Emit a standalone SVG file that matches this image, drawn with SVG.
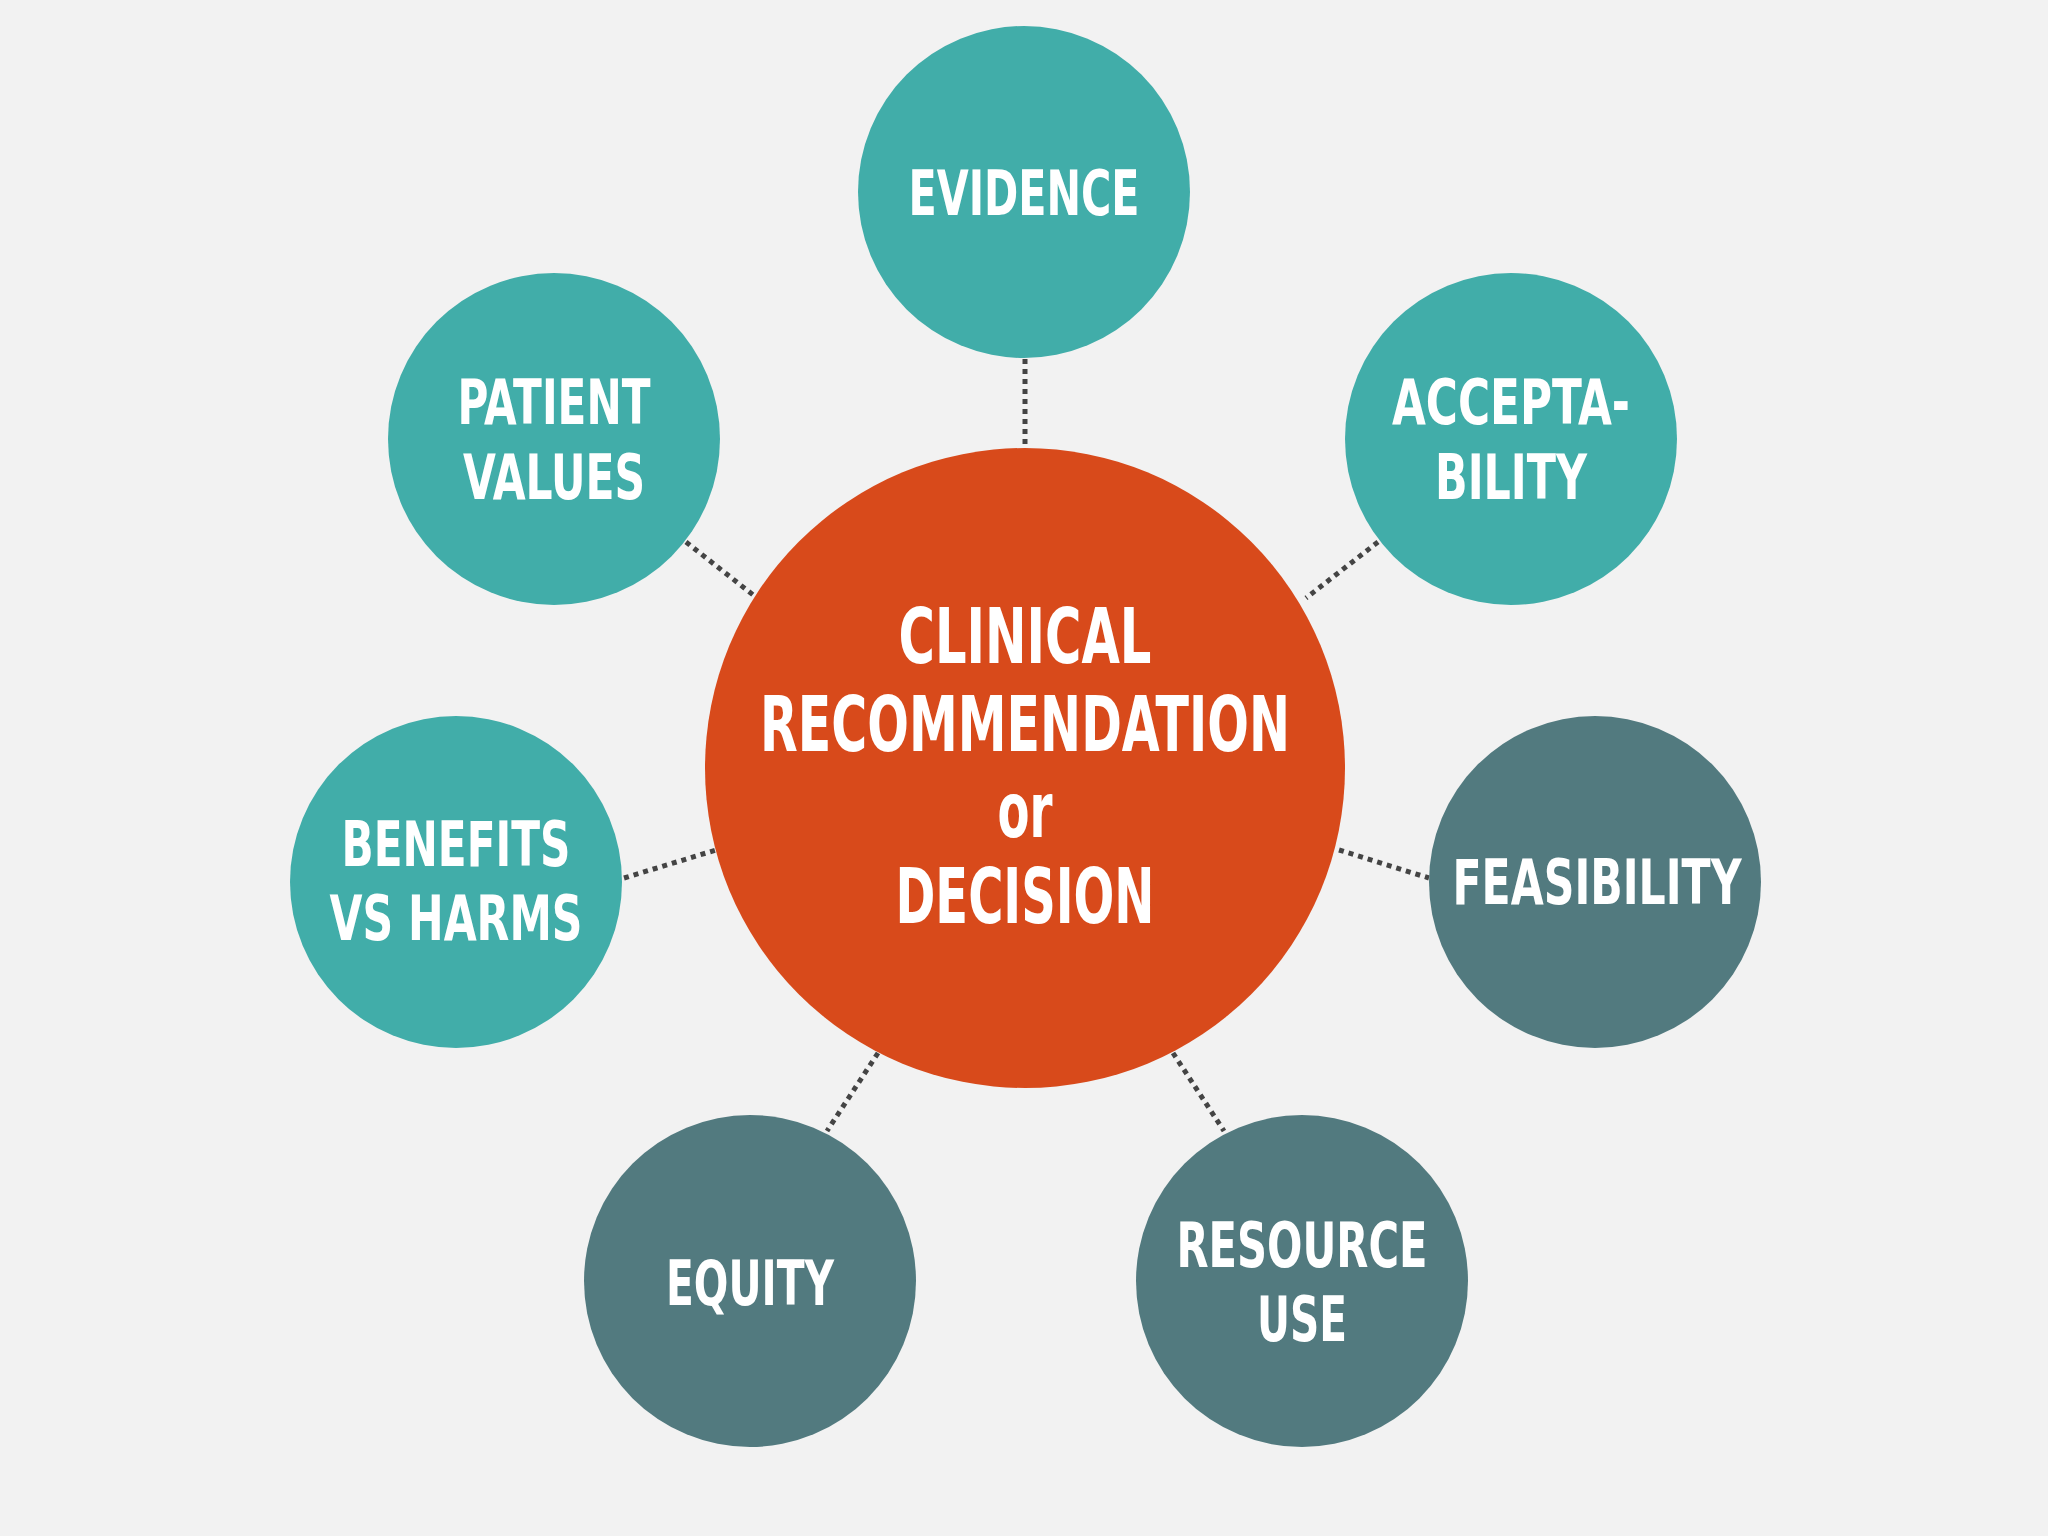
<svg xmlns="http://www.w3.org/2000/svg" width="2048" height="1536" viewBox="0 0 2048 1536">
<style>
.teal{fill:#41ADA9}.slate{fill:#527A7F}.core{fill:#D84A1B}
.c{stroke:#444;stroke-width:5;stroke-dasharray:5 5;fill:none}
text{font-family:"Liberation Sans Narrow","DejaVu Sans Condensed","Liberation Sans",sans-serif;font-weight:bold;fill:#fff;text-anchor:middle;font-size:62px}
.big{font-size:76px}
</style>
<rect width="2048" height="1536" fill="#F2F2F2"/>
<g id="connectors">
<line class="c" x1="1025" y1="359" x2="1025" y2="448"/>
<line class="c" x1="686" y1="542" x2="757" y2="598"/>
<line class="c" x1="1378" y1="542" x2="1306" y2="598"/>
<line class="c" x1="624" y1="878" x2="716" y2="850"/>
<line class="c" x1="1339" y1="850" x2="1429" y2="878"/>
<line class="c" x1="878" y1="1053" x2="827" y2="1131"/>
<line class="c" x1="1173" y1="1053" x2="1224" y2="1131"/>
</g>
<g id="center"><circle class="core" cx="1025" cy="768" r="320"/>
<text class="big" x="1025" y="663" textLength="253" lengthAdjust="spacingAndGlyphs">CLINICAL</text>
<text class="big" x="1025" y="751" textLength="530" lengthAdjust="spacingAndGlyphs">RECOMMENDATION</text>
<text class="big" x="1025" y="837" textLength="55" lengthAdjust="spacingAndGlyphs">or</text>
<text class="big" x="1025" y="923" textLength="259" lengthAdjust="spacingAndGlyphs">DECISION</text></g>
<g id="evidence"><circle class="teal" cx="1024" cy="192" r="166"/>
<text x="1024" y="215" textLength="231" lengthAdjust="spacingAndGlyphs">EVIDENCE</text></g>
<g id="patient"><circle class="teal" cx="554" cy="439" r="166"/>
<text x="554" y="424" textLength="193" lengthAdjust="spacingAndGlyphs">PATIENT</text>
<text x="554" y="499" textLength="182" lengthAdjust="spacingAndGlyphs">VALUES</text></g>
<g id="accept"><circle class="teal" cx="1511" cy="439" r="166"/>
<text x="1511" y="424" textLength="238" lengthAdjust="spacingAndGlyphs">ACCEPTA-</text>
<text x="1511" y="499" textLength="152" lengthAdjust="spacingAndGlyphs">BILITY</text></g>
<g id="benefits"><circle class="teal" cx="456" cy="882" r="166"/>
<text x="456" y="866" textLength="229" lengthAdjust="spacingAndGlyphs">BENEFITS</text>
<text x="456" y="940" textLength="253" lengthAdjust="spacingAndGlyphs">VS HARMS</text></g>
<g id="feasibility"><circle class="slate" cx="1595" cy="882" r="166"/>
<text x="1597" y="904" textLength="289" lengthAdjust="spacingAndGlyphs">FEASIBILITY</text></g>
<g id="equity"><circle class="slate" cx="750" cy="1281" r="166"/>
<text x="750" y="1305" textLength="168" lengthAdjust="spacingAndGlyphs">EQUITY</text></g>
<g id="resource"><circle class="slate" cx="1302" cy="1281" r="166"/>
<text x="1302" y="1267" textLength="251" lengthAdjust="spacingAndGlyphs">RESOURCE</text>
<text x="1302" y="1341" textLength="90" lengthAdjust="spacingAndGlyphs">USE</text></g>
</svg>
